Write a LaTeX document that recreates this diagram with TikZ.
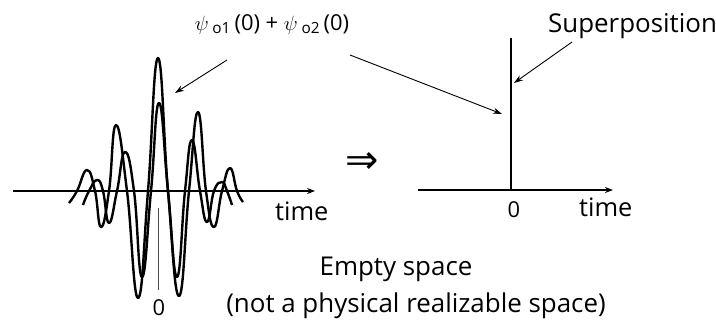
\documentclass[tikz,border=0pt]{standalone}
\usepackage{fontspec}
\setmainfont{Open Sans}
\newfontfamily\arrowfont{DejaVu Sans}
\usetikzlibrary{positioning, arrows.meta}

\begin{document}
\begin{tikzpicture}[x=1bp, y=-1bp,
    txt/.style={font=\fontsize{26}{30}\selectfont, inner sep=0pt},
    lbl/.style={font=\fontsize{25.5}{30}\selectfont, inner sep=0pt},
    num/.style={font=\fontsize{22}{26}\selectfont, inner sep=0pt},
    axis/.style={-{Stealth[length=8bp, width=6bp]}, line width=1.8bp},
    wave/.style={line width=2.4bp, line join=round, smooth, tension=0.8},
    pointer/.style={-{Stealth[length=9bp, width=6bp]}, line width=0.9bp}
]
\useasboundingbox (0,0) rectangle (716,321);

% left: the two wave packets on their time axis
\coordinate (laxs) at (13,191);
\coordinate (laxe) at (315,191);
\draw[axis] (laxs) -- (laxe);
\draw[wave] plot coordinates {(69,203) (77,191) (87,170) (95,191) (101,227) (109,191) (116,125) (127,191) (138,298) (148,191) (158,58) (168,191) (179,296) (189,191) (198,112) (206,191) (214,227) (222,191) (230,168) (237,191) (243,202)};
\draw[wave] plot coordinates {(83,205) (89,191) (97,180) (103,191) (109,223) (117,191) (125,152) (134,191) (142,277) (151,191) (159,103) (168,191) (177,277) (185,191) (192,140) (200,191) (207,222) (214,191) (222,182) (227,191) (232,205)};
\coordinate (ltop) at (158,208);
\coordinate (lbot) at (158,290);
\draw[line width=1bp, black!70] (ltop) -- (lbot);
\node[num, anchor=base] (lzero) at (159,315) {0};
\node[lbl, anchor=base west] (ltime) at (275,220) {time};

% formula and its pointers
\node[font=\fontsize{22}{26}\selectfont, inner sep=0pt, anchor=base] (psi) at (272,30) {$\psi$\,\textsubscript{o1}\,(0) + $\psi$\,\textsubscript{o2}\,(0)};
\coordinate (pa) at (227,60);
\coordinate (pb) at (175,93);
\coordinate (pc) at (350,55);
\coordinate (pd) at (502,114);
\draw[pointer] (pa) -- (pb);
\draw[pointer] (pc) -- (pd);

\node[font=\arrowfont\fontsize{40}{40}\selectfont, inner sep=0pt] (impl) at (362,163) {⇒};

% right: the superposition spike
\coordinate (raxs) at (418,190);
\coordinate (raxe) at (613,190);
\coordinate (spk) at (511,38);
\coordinate (spb) at (511,190);
\draw[axis] (raxs) -- (raxe);
\draw[line width=2.6bp] (spb) -- (spk);
\node[num, anchor=base] (rzero) at (514,217) {0};
\node[lbl, anchor=base west] (rtime) at (579,216) {time};
\node[txt, anchor=base west] (sup) at (548,32) {Superposition};
\coordinate (sa) at (572,42);
\coordinate (sb) at (514,83);
\draw[pointer] (sa) -- (sb);

% caption
\node[txt, anchor=base] (empty) at (396,275) {Empty space};
\node[txt, anchor=base] (notreal) at (416,312) {(not a physical realizable space)};

\end{tikzpicture}
\end{document}
